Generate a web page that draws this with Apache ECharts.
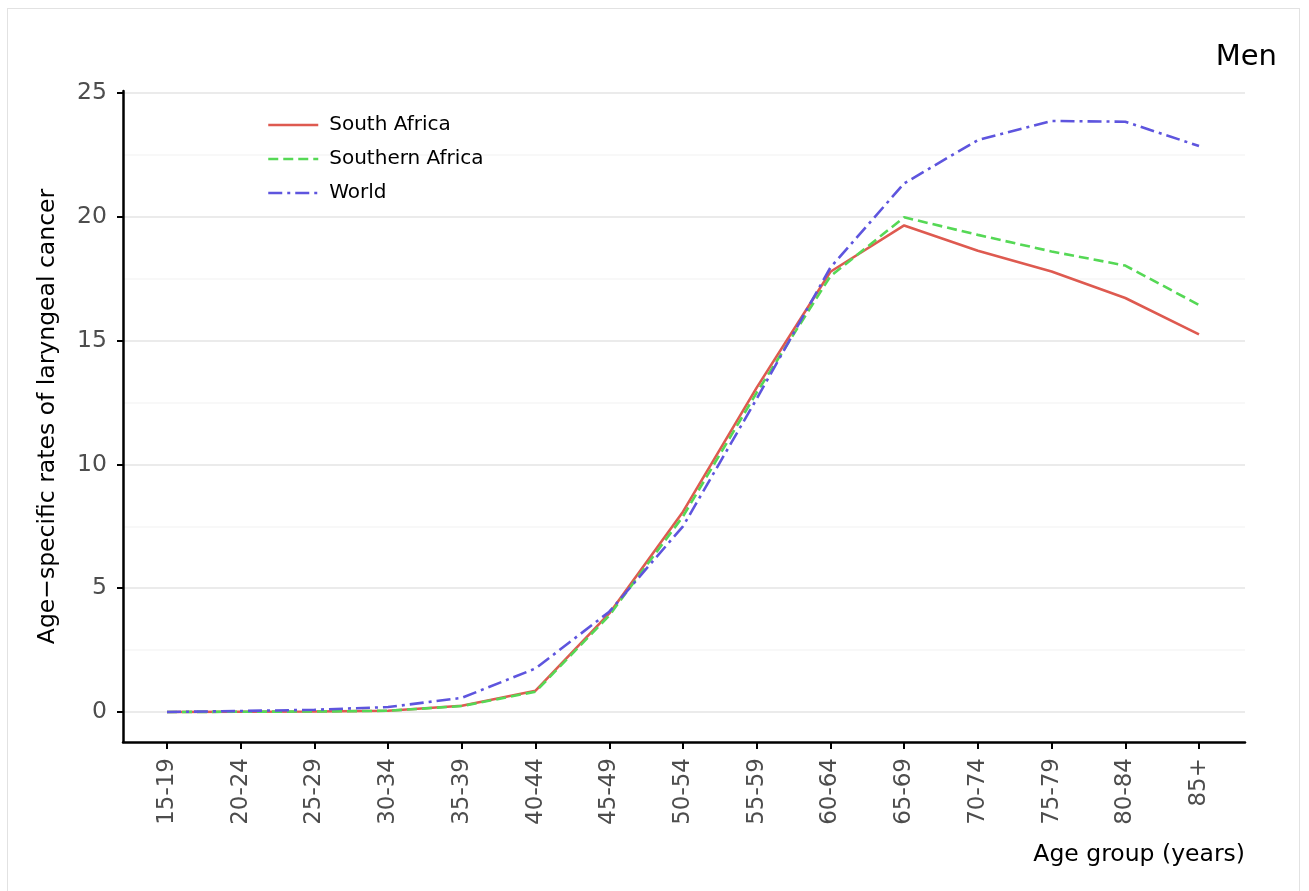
<!DOCTYPE html>
<html>
<head>
<meta charset="utf-8">
<script src="https://cdn.jsdelivr.net/npm/echarts@6/dist/echarts.min.js"></script>
<style>
  html, body { margin: 0; padding: 0; background: #ffffff; }
  #frame { position: absolute; left: 7px; top: 8px; width: 1293px; height: 900px; border: 1px solid #e2e2e2; box-sizing: border-box; }
  #chart { position: absolute; left: 0; top: 0; width: 1309px; height: 891px; }
</style>
</head>
<body>
<div id="frame"></div>
<div id="chart"></div>
<script>
const categories = ['15-19', '20-24', '25-29', '30-34', '35-39', '40-44', '45-49', '50-54', '55-59', '60-64', '65-69', '70-74', '75-79', '80-84', '85+'];
const southAfrica = [0, 0.01, 0.02, 0.05, 0.25, 0.86, 3.98, 8.09, 13.1, 17.78, 19.65, 18.63, 17.79, 16.72, 15.25];
const southernAfrica = [0, 0.01, 0.02, 0.05, 0.24, 0.82, 3.9, 7.9, 12.9, 17.6, 19.98, 19.27, 18.6, 18.03, 16.44];
const world = [0, 0.04, 0.09, 0.2, 0.57, 1.76, 4.05, 7.5, 12.65, 17.95, 21.35, 23.1, 23.87, 23.84, 22.86];
const seriesNames = ['South Africa', 'Southern Africa', 'World'];
const yTickMin = 0, yTickMax = 25, yTickStep = 5;

const FONT = 'DejaVu Sans';
const chart = echarts.init(document.getElementById('chart'), null, { renderer: 'canvas' });

const option = {
  animation: false,
  textStyle: { fontFamily: FONT },
  title: [
    { text: 'Men', right: 27, top: 38, textStyle: { fontFamily: FONT, fontSize: 29, fontWeight: 'normal', color: '#000' } },
    { text: 'Age group (years)', right: 59, top: 838, textStyle: { fontFamily: FONT, fontSize: 23.5, fontWeight: 'normal', color: '#000' } }
  ],
  legend: {
    orient: 'vertical', left: 262, top: 110,
    itemWidth: 50, itemHeight: 14, itemGap: 14,
    data: seriesNames,
    itemStyle: { opacity: 0 },
    lineStyle: { width: 2.5 },
    textStyle: { fontFamily: FONT, fontSize: 20, color: '#000', padding: [0, 0, 0, 6] }
  },
  grid: [
    { left: 123, right: 64, top: 91, bottom: 149 },
    { left: 123, right: 64, top: 93, bottom: 179 },
    { left: 167, right: 110, top: 91, bottom: 149 }
  ],
  xAxis: [
    { gridIndex: 0, type: 'value', min: 0, max: 1, axisLine: { show: true, onZero: false, lineStyle: { color: '#000', width: 2.5 } },
      axisTick: { show: false }, axisLabel: { show: false }, splitLine: { show: false } },
    { gridIndex: 1, type: 'value', min: 0, max: 1, show: false },
    { gridIndex: 2, type: 'category', data: categories, boundaryGap: false,
      axisLine: { show: false, onZero: false }, axisTick: { show: true, length: 7, lineStyle: { color: '#000', width: 2 } },
      axisLabel: { rotate: 90, fontFamily: FONT, fontSize: 23, color: '#4d4d4d', margin: 16 },
      splitLine: { show: false } }
  ],
  yAxis: [
    { gridIndex: 0, type: 'value', min: 0, max: 1, axisLine: { show: true, onZero: false, lineStyle: { color: '#000', width: 2.5 } },
      axisTick: { show: false }, axisLabel: { show: false }, splitLine: { show: false },
      name: 'Age\u2212specific rates of laryngeal cancer', nameLocation: 'middle', nameGap: 63,
      nameTextStyle: { fontFamily: FONT, fontSize: 23.5, color: '#000' } },
    { gridIndex: 1, type: 'value', min: yTickMin, max: yTickMax, interval: yTickStep,
      axisLine: { show: false }, axisTick: { show: true, length: 6, lineStyle: { color: '#000', width: 2 } },
      axisLabel: { fontFamily: FONT, fontSize: 23.5, color: '#4d4d4d', margin: 16 },
      splitLine: { show: true, lineStyle: { color: '#e5e5e5', width: 1.6 } },
      minorTick: { show: false, splitNumber: 2 },
      minorSplitLine: { show: true, lineStyle: { color: '#f6f6f6', width: 1.6 } } },
    { gridIndex: 2, type: 'value', min: -1.2116, max: 25.081, show: false }
  ],
  series: [
    { name: seriesNames[0], type: 'line', xAxisIndex: 2, yAxisIndex: 2, data: southAfrica, showSymbol: false, symbol: 'none',
      lineStyle: { color: '#DE5A50', width: 2.6, type: 'solid' }, itemStyle: { color: '#DE5A50' } },
    { name: seriesNames[1], type: 'line', xAxisIndex: 2, yAxisIndex: 2, data: southernAfrica, showSymbol: false, symbol: 'none',
      lineStyle: { color: '#55D855', width: 2.6, type: [10, 5] }, itemStyle: { color: '#55D855' } },
    { name: seriesNames[2], type: 'line', xAxisIndex: 2, yAxisIndex: 2, data: world, showSymbol: false, symbol: 'none',
      lineStyle: { color: '#5E55DE', width: 2.6, type: [14, 5, 3, 5] }, itemStyle: { color: '#5E55DE' } }
  ]
};
chart.setOption(option);
</script>
</body>
</html>
